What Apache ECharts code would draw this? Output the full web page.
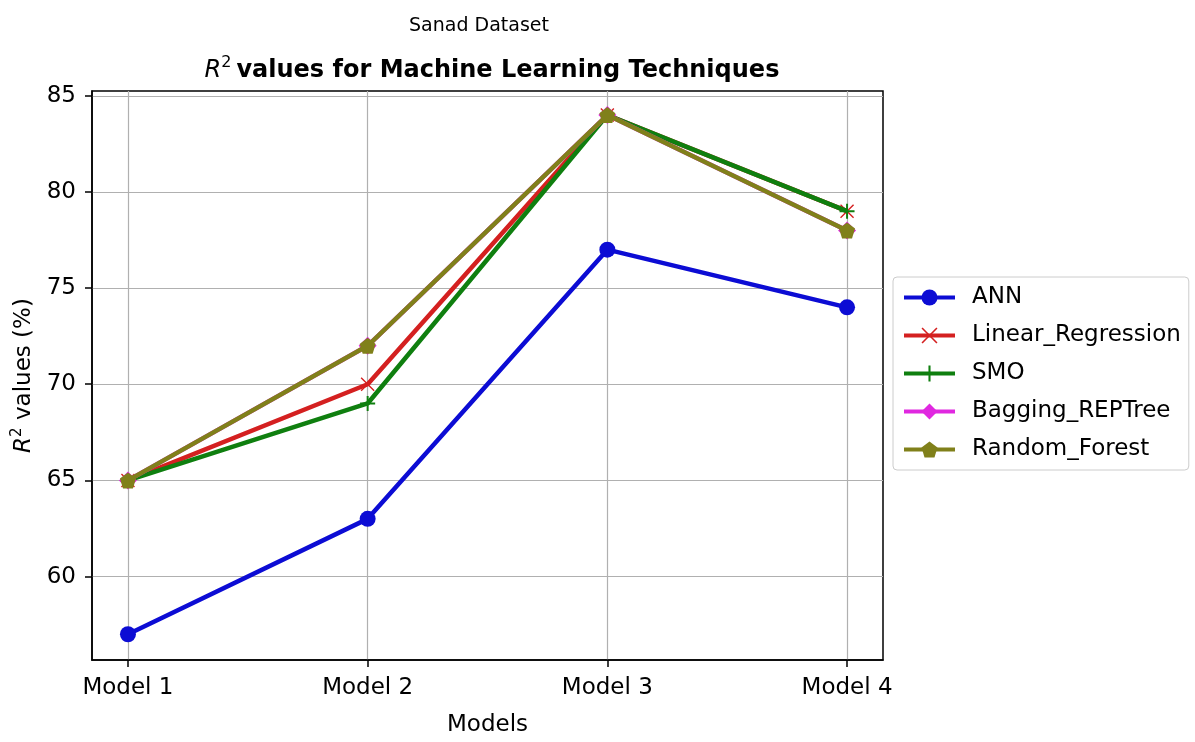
<!DOCTYPE html>
<html>
<head>
<meta charset="utf-8">
<script src="https://cdn.jsdelivr.net/npm/echarts@6/dist/echarts.min.js"></script>
<style>html,body{margin:0;padding:0;background:#fff;}#c{width:1195px;height:742px;}</style>
</head>
<body>
<div id="c"></div>
<script>
var categories = ['Model 1', 'Model 2', 'Model 3', 'Model 4'];
var seriesNames = ['ANN', 'Linear_Regression', 'SMO', 'Bagging_REPTree', 'Random_Forest'];
var ann = [57, 63, 77, 74];
var linearRegression = [65, 70, 84, 79];
var smo = [65, 69, 84, 79];
var baggingREPTree = [65, 72, 84, 78];
var randomForest = [65, 72, 84, 78];
var yTicks = [60, 65, 70, 75, 80, 85];
var xTicks = [0, 1, 2, 3];

var FONT = 'DejaVu Sans';
var colors = ['#0c0cd4', '#d42020', '#0f7f0f', '#e028e0', '#80801a'];
var symXPath = 'path://M-10,-8.6 L-8.6,-10 L0,-1.4 L8.6,-10 L10,-8.6 L1.4,0 L10,8.6 L8.6,10 L0,1.4 L-8.6,10 L-10,8.6 L-1.4,0 Z';
var symPlus = 'path://M-1.3,-10 L1.3,-10 L1.3,-1.3 L10,-1.3 L10,1.3 L1.3,1.3 L1.3,10 L-1.3,10 L-1.3,1.3 L-10,1.3 L-10,-1.3 L-1.3,-1.3 Z';
var symPent = 'path://M0,-10 L9.5,-3.1 L5.9,8.1 L-5.9,8.1 L-9.5,-3.1 Z';
var symbols = ['circle', symXPath, symPlus, 'diamond', symPent];
var symSizes = [16, 14, 15, 18, 16];
var values = [ann, linearRegression, smo, baggingREPTree, randomForest];

function pts(arr) { return arr.map(function (v, i) { return [xTicks[i], v]; }); }

var series = seriesNames.map(function (n, k) {
  return {
    name: n, type: 'line', data: pts(values[k]),
    symbol: symbols[k], symbolSize: symSizes[k], showAllSymbol: true,
    lineStyle: { width: 4.5, color: colors[k] },
    itemStyle: { color: colors[k] },
    z: 2 + k, animation: false
  };
});

var chart = echarts.init(document.getElementById('c'), null, { renderer: 'canvas' });
chart.setOption({
  animation: false,
  backgroundColor: '#ffffff',
  color: colors,
  title: [
    { text: 'Sanad Dataset', left: 474, top: 12, textAlign: 'center',
      textStyle: { fontFamily: FONT, fontSize: 19, fontWeight: 'normal', color: '#000' } },
    { text: '{i|R}{s|2} {b|values for Machine Learning Techniques}', left: 487, top: 50, textAlign: 'center',
      textStyle: { fontWeight: 'normal', rich: {
        i: { fontFamily: FONT, fontSize: 24, fontStyle: 'italic', fontWeight: 'normal', color: '#000', verticalAlign: 'bottom' },
        s: { fontFamily: FONT, fontSize: 16, fontWeight: 'normal', color: '#000', verticalAlign: 'top', padding: [0, 0, 12, 0] },
        b: { fontFamily: FONT, fontSize: 24, fontWeight: 'bold', color: '#000', verticalAlign: 'bottom' }
      } } }
  ],
  legend: {
    orient: 'vertical', left: 893, top: 277,
    itemWidth: 51, itemHeight: 20, itemGap: 15,
    padding: [9, 8, 9, 9],
    borderColor: '#cccccc', borderWidth: 1, borderRadius: 4,
    lineStyle: { width: 4 },
    textStyle: { fontFamily: FONT, fontSize: 23, color: '#000', padding: [0, 0, 0, 12] },
    data: seriesNames
  },
  grid: { left: 92, right: 312, top: 91, bottom: 79, show: true, borderColor: '#000', borderWidth: 1.5, containLabel: false },
  xAxis: {
    type: 'value', min: -0.15, max: 3.15,
    name: 'Models', nameLocation: 'middle', nameGap: 54,
    nameTextStyle: { fontFamily: FONT, fontSize: 23, color: '#000' },
    axisLine: { show: true, onZero: false, lineStyle: { color: '#000', width: 1.5 } },
    axisTick: { show: true, length: 7, customValues: xTicks, lineStyle: { color: '#000', width: 1.5 } },
    axisLabel: { customValues: xTicks, fontFamily: FONT, fontSize: 23, color: '#000', margin: 17,
      formatter: function (v) { return categories[Math.round(v)]; } },
    splitLine: { show: true, lineStyle: { color: '#b0b0b0', width: 1.2 } }
  },
  yAxis: {
    type: 'value', min: 55.66, max: 85.25,
    name: '{i|R}{s|2}{n| values (%)}', nameLocation: 'middle', nameRotate: 90, nameGap: 56,
    nameTextStyle: { rich: {
      i: { fontFamily: FONT, fontSize: 23, fontStyle: 'italic', color: '#000', verticalAlign: 'bottom' },
      s: { fontFamily: FONT, fontSize: 15, color: '#000', verticalAlign: 'top', padding: [0, 0, 11, 0] },
      n: { fontFamily: FONT, fontSize: 23, color: '#000', verticalAlign: 'bottom' }
    } },
    axisLine: { show: true, onZero: false, lineStyle: { color: '#000', width: 1.5 } },
    axisTick: { show: true, length: 7, customValues: yTicks, lineStyle: { color: '#000', width: 1.5 } },
    axisLabel: { customValues: yTicks, fontFamily: FONT, fontSize: 23, color: '#000', margin: 16 },
    splitLine: { show: true, lineStyle: { color: '#b0b0b0', width: 1.2 } }
  },
  series: series
});
</script>
</body>
</html>
